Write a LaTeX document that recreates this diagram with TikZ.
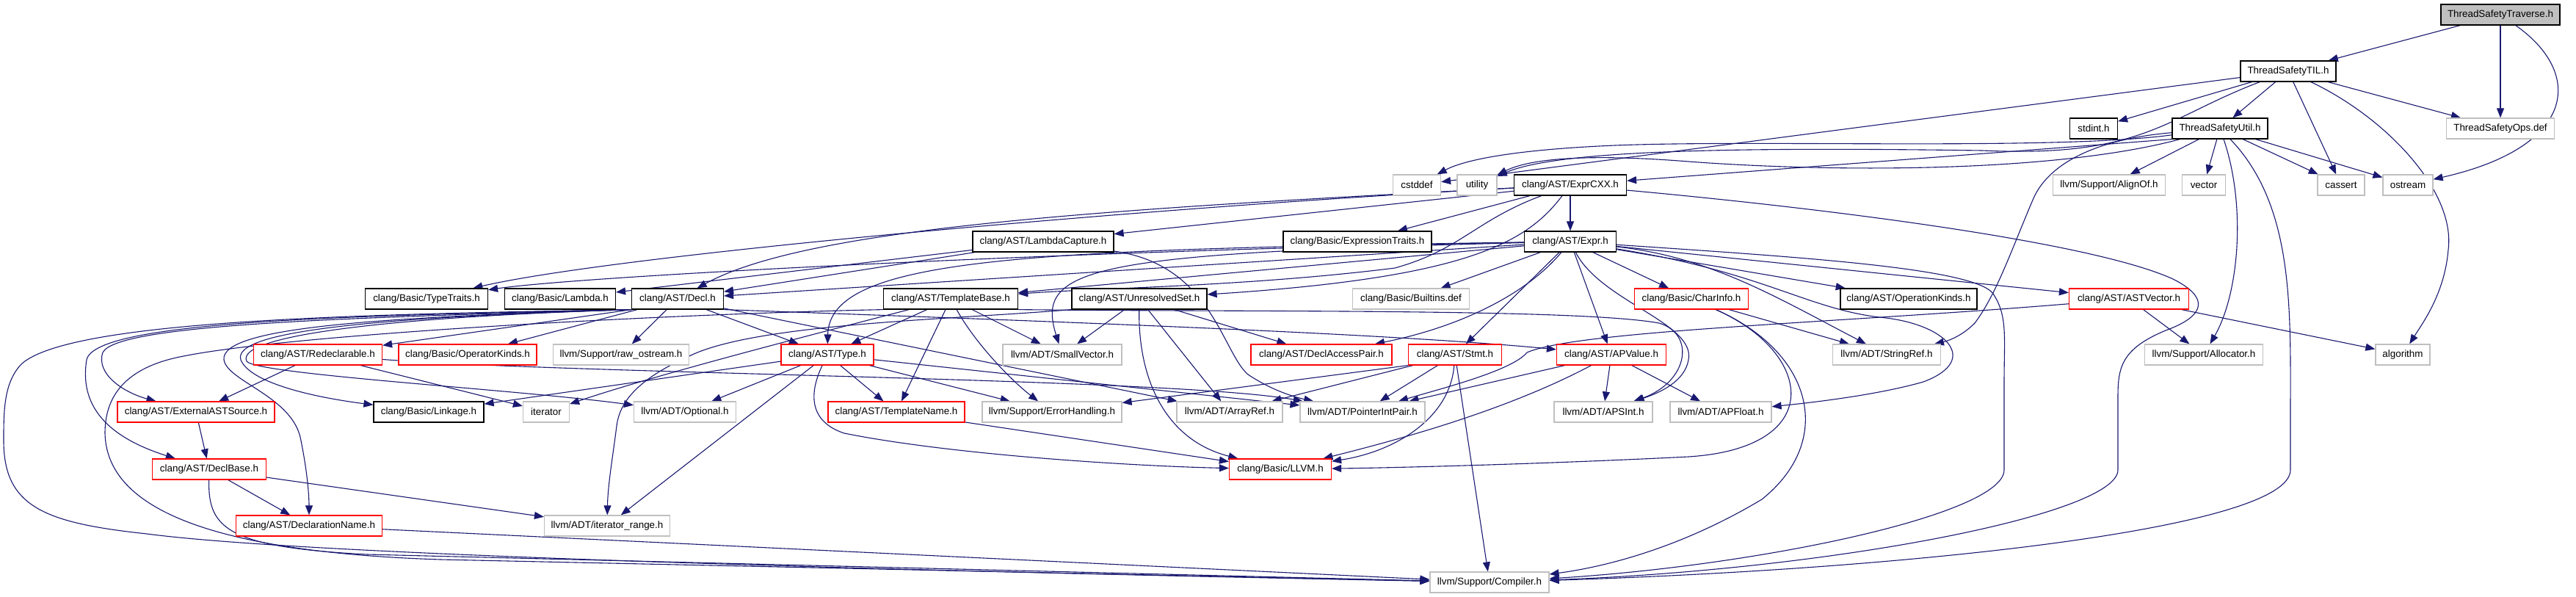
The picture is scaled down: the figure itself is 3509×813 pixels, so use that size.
\documentclass[tikz,border=0pt]{standalone}
\usepackage{fontspec}
\setmainfont{Liberation Sans}
\usetikzlibrary{arrows.meta}
\pgfdeclarelayer{edgelayer}
\pgfsetlayers{edgelayer,main}
\definecolor{edgeblue}{HTML}{191970}
\definecolor{grey75}{HTML}{BFBFBF}
\definecolor{redb}{HTML}{FF0000}
\tikzset{
  nb/.style={rectangle, line width=0.6pt, minimum height=14pt, inner sep=0pt, fill=white,
    font=\fontsize{6.7}{8}\selectfont, anchor=center},
  blk/.style={nb, draw=black},
  redbox/.style={nb, draw=redb},
  gry/.style={nb, draw=grey75},
  W/.style={minimum width=#1*0.5pt},
  e/.style={draw=edgeblue, line width=0.55pt, -{Triangle[length=6.5pt,width=5pt]}}
}
\begin{document}
\begin{tikzpicture}[x=0.5pt,y=-0.5pt]
\useasboundingbox (0,0) rectangle (3509,813);
% ---------------- nodes ----------------
\node[blk, fill=grey75, W=162] (trav) at (3406,20) {ThreadSafetyTraverse.h};
\node[blk, W=130] (til) at (3117,97) {ThreadSafetyTIL.h};
\node[blk, W=65] (stdint) at (2852,175) {stdint.h};
\node[blk, W=130] (util) at (3024,175) {ThreadSafetyUtil.h};
\node[gry, W=147] (ops) at (3406,175) {ThreadSafetyOps.def};
\node[gry, W=65] (cstddef) at (1930,252) {cstddef};
\node[gry, W=54] (utility) at (2012,252) {utility};
\node[blk, W=153] (exprcxx) at (2139,252) {clang/AST/ExprCXX.h};
\node[gry, W=153] (alignof) at (2873,252) {llvm/Support/AlignOf.h};
\node[gry, W=59] (vector) at (3002,252) {vector};
\node[gry, W=64] (cassert) at (3189,252) {cassert};
\node[gry, W=68] (ostream) at (3280,252) {ostream};
\node[blk, W=192] (lcap) at (1421,329) {clang/AST/LambdaCapture.h};
\node[blk, W=202] (etraits) at (1849,329) {clang/Basic/ExpressionTraits.h};
\node[blk, W=125] (expr) at (2139,329) {clang/AST/Expr.h};
\node[blk, W=167] (ttraits) at (581,407) {clang/Basic/TypeTraits.h};
\node[blk, W=151] (lambda) at (763,407) {clang/Basic/Lambda.h};
\node[blk, W=125] (decl) at (923,407) {clang/AST/Decl.h};
\node[blk, W=183] (tbase) at (1295,407) {clang/AST/TemplateBase.h};
\node[blk, W=184] (uset) at (1552,407) {clang/AST/UnresolvedSet.h};
\node[gry, W=159] (builtins) at (1922,407) {clang/Basic/Builtins.def};
\node[redbox, W=155] (charinfo) at (2304,407) {clang/Basic/CharInfo.h};
\node[blk, W=186] (opkinds) at (2600,407) {clang/AST/OperationKinds.h};
\node[redbox, W=163] (astvec) at (2900,407) {clang/AST/ASTVector.h};
\node[redbox, W=175] (redecl) at (433,483) {clang/AST/Redeclarable.h};
\node[redbox, W=188] (oprkinds) at (637,483) {clang/Basic/OperatorKinds.h};
\node[gry, W=185] (rawos) at (846,483) {llvm/Support/raw\_ostream.h};
\node[redbox, W=126] (type) at (1127,483) {clang/AST/Type.h};
\node[gry, W=162] (smallvec) at (1447,483) {llvm/ADT/SmallVector.h};
\node[redbox, W=192] (dap) at (1800,483) {clang/AST/DeclAccessPair.h};
\node[redbox, W=127] (stmt) at (1982,483) {clang/AST/Stmt.h};
\node[redbox, W=149] (apvalue) at (2195,483) {clang/AST/APValue.h};
\node[gry, W=147] (stringref) at (2570,483) {llvm/ADT/StringRef.h};
\node[gry, W=161] (alloc) at (3002,483) {llvm/Support/Allocator.h};
\node[gry, W=74] (algo) at (3273,483) {algorithm};
\node[redbox, W=214] (extast) at (267,561) {clang/AST/ExternalASTSource.h};
\node[blk, W=150] (linkage) at (584,561) {clang/Basic/Linkage.h};
\node[gry, W=63] (iter) at (744,561) {iterator};
\node[gry, W=139] (optional) at (933,561) {llvm/ADT/Optional.h};
\node[redbox, W=186] (tname) at (1221,561) {clang/AST/TemplateName.h};
\node[gry, W=190] (errh) at (1433,561) {llvm/Support/ErrorHandling.h};
\node[gry, W=144] (arrayref) at (1675,561) {llvm/ADT/ArrayRef.h};
\node[gry, W=170] (pip) at (1856,561) {llvm/ADT/PointerIntPair.h};
\node[gry, W=134] (apsint) at (2184,561) {llvm/ADT/APSInt.h};
\node[gry, W=138] (apfloat) at (2344,561) {llvm/ADT/APFloat.h};
\node[redbox, W=155] (declbase) at (285,639) {clang/AST/DeclBase.h};
\node[redbox, W=139] (llvmh) at (1744,639) {clang/Basic/LLVM.h};
\node[redbox, W=199] (dname) at (421,716) {clang/AST/DeclarationName.h};
\node[gry, W=171] (irange) at (827,716) {llvm/ADT/iterator\_range.h};
\node[gry, W=162] (compiler) at (2029,793) {llvm/Support/Compiler.h};
% ---------------- edges ----------------
\begin{pgfonlayer}{edgelayer}
\fill[white] (0,0) rectangle (3509,813);
% ThreadSafetyTraverse.h
\draw[e] (trav) -- (til);
\draw[e] (trav) -- (ops);
\draw[e] (trav) .. controls (3520,100) and (3510,200) .. (ostream);
% ThreadSafetyTIL.h
\draw[e] (til) -- (cstddef);
\draw[e] (til) .. controls (2950,160) and (2920,215) .. (2700,205) .. controls (2350,200) and (2120,205) .. (utility);
\draw[e] (til) -- (stdint);
\draw[e] (til) -- (util);
\draw[e] (til) -- (cassert);
\draw[e] (til) -- (ops);
\draw[e] (til) .. controls (3250,160) and (3345,260) .. (3335,340) .. controls (3330,400) and (3300,440) .. (algo);
% ThreadSafetyUtil.h
\draw[e] (util) .. controls (2800,205) and (2400,190) .. (2200,198) .. controls (2080,203) and (2000,215) .. (cstddef);
\draw[e] (util) .. controls (2800,235) and (2500,235) .. (2300,220) .. controls (2150,208) and (2080,218) .. (utility);
\draw[e] (util.south west) -- (exprcxx);
\draw[e] (util) .. controls (2850,190) and (2790,225) .. (2770,270) .. controls (2740,340) and (2720,400) .. (2690,440) .. controls (2670,460) and (2650,465) .. (stringref);
\draw[e] (util) -- (alignof);
\draw[e] (util) -- (vector);
\draw[e] (util) -- (cassert);
\draw[e] (util) -- (ostream);
\draw[e] (util) .. controls (3060,280) and (3050,400) .. (alloc);
\draw[e] (util) .. controls (3125,280) and (3120,420) .. (3120,560) -- (3120,640) .. controls (3120,720) and (2600,775) .. (compiler);
% clang/AST/ExprCXX.h
\draw[e] (exprcxx) -- (expr);
\draw[e] (exprcxx) -- (etraits);
\draw[e] (exprcxx) -- (lcap);
\draw[e] (exprcxx) .. controls (1600,280) and (850,345) .. (ttraits);
\draw[e] (exprcxx) .. controls (1500,285) and (1100,310) .. (decl);
\draw[e] (exprcxx) .. controls (2010,300) and (1990,340) .. (1900,365) .. controls (1700,390) and (1500,392) .. (tbase);
\draw[e] (exprcxx) .. controls (2080,330) and (2000,378) .. (uset);
\draw[e] (exprcxx) .. controls (2500,285) and (2850,330) .. (2960,380) .. controls (3010,405) and (3005,430) .. (2950,450) .. controls (2890,475) and (2885,500) .. (2885,540) -- (2885,640) .. controls (2885,700) and (2500,775) .. (compiler);
% clang/AST/LambdaCapture.h
\draw[e] (lcap) -- (lambda);
\draw[e] (lcap) -- (decl);
\draw[e] (lcap) .. controls (1650,360) and (1665,480) .. (1700,510) .. controls (1730,530) and (1760,540) .. (pip);
% clang/AST/Expr.h
\draw[e] (expr) .. controls (1500,340) and (800,375) .. (ttraits);
\draw[e] (expr) -- (decl);
\draw[e] (expr) -- (tbase);
\draw[e] (expr) .. controls (1400,340) and (1130,350) .. (type);
\draw[e] (expr) .. controls (1480,345) and (1410,365) .. (smallvec);
\draw[e] (expr) -- (builtins);
\draw[e] (expr) .. controls (2080,400) and (1990,445) .. (dap);
\draw[e] (expr) -- (stmt);
\draw[e] (expr) -- (apvalue);
\draw[e] (expr) .. controls (2180,410) and (2310,440) .. (2300,490) .. controls (2295,520) and (2260,535) .. (apsint);
\draw[e] (expr) -- (charinfo);
\draw[e] (expr) .. controls (2330,350) and (2420,405) .. (stringref);
\draw[e] (expr) .. controls (2400,370) and (2460,420) .. (2560,432) .. controls (2650,440) and (2700,490) .. (2620,520) .. controls (2550,540) and (2450,550) .. (apfloat);
\draw[e] (expr) -- (opkinds);
\draw[e] (expr) -- (astvec);
\draw[e] (expr) .. controls (2450,350) and (2690,365) .. (2715,400) .. controls (2735,430) and (2730,460) .. (2730,520) -- (2730,640) .. controls (2730,700) and (2400,770) .. (compiler);
% clang/AST/Decl.h
\draw[e] (decl.south west) -- (redecl);
\draw[e] (decl) -- (oprkinds);
\draw[e] (decl) -- (rawos);
\draw[e] (decl) -- (type);
\draw[e] (decl.south east) .. controls (1500,440) and (1900,455) .. (apvalue);
\draw[e] (decl) -- (arrayref);
\draw[e] (decl.south west) .. controls (500,432) and (160,440) .. (140,480) .. controls (130,510) and (170,535) .. (extast);
\draw[e] (decl.south west) .. controls (500,430) and (130,435) .. (118,490) .. controls (110,540) and (130,590) .. (declbase);
\draw[e] (decl.south west) .. controls (500,428) and (100,435) .. (30,495) .. controls (5,520) and (5,560) .. (5,600) .. controls (5,690) and (60,712) .. (200,727) .. controls (300,740) and (600,765) .. (compiler);
\draw[e] (decl.south west) .. controls (520,432) and (300,445) .. (305,490) .. controls (310,520) and (400,540) .. (410,600) .. controls (420,650) and (421,680) .. (dname);
\draw[e] (decl.south west) .. controls (520,432) and (315,450) .. (328,490) .. controls (340,520) and (420,540) .. (linkage);
\draw[e] (decl.south west) .. controls (520,432) and (320,458) .. (336,492) .. controls (350,510) and (700,530) .. (optional);
% clang/AST/TemplateBase.h
\draw[e] (tbase) -- (type);
\draw[e] (tbase) -- (tname);
\draw[e] (tbase) -- (smallvec);
\draw[e] (tbase) .. controls (1330,470) and (1380,520) .. (errh);
\draw[e] (tbase) .. controls (1050,470) and (880,515) .. (iter);
\draw[e] (tbase.south east) .. controls (1700,425) and (2150,420) .. (2260,440) .. controls (2310,455) and (2300,520) .. (apsint);
\draw[e] (tbase.south west) .. controls (900,428) and (400,455) .. (250,485) .. controls (170,500) and (143,540) .. (143,590) .. controls (145,670) and (230,750) .. (600,762) -- (compiler);
% clang/AST/UnresolvedSet.h
\draw[e] (uset) -- (smallvec);
\draw[e] (uset) -- (arrayref);
\draw[e] (uset) -- (dap);
\draw[e] (uset) .. controls (1550,520) and (1590,600) .. (llvmh);
\draw[e] (uset.south west) .. controls (1300,435) and (1050,440) .. (950,480) .. controls (880,510) and (845,540) .. (840,580) .. controls (835,620) and (828,660) .. (irange);
% clang/AST/Type.h
\draw[e] (type) -- (linkage);
\draw[e] (type) -- (optional);
\draw[e] (type) -- (irange);
\draw[e] (type) -- (tname);
\draw[e] (type) -- (errh);
\draw[e] (type) -- (pip);
\draw[e] (type) .. controls (1100,540) and (1105,575) .. (1150,590) .. controls (1300,620) and (1550,635) .. (llvmh);
% clang/AST/Redeclarable.h
\draw[e] (redecl) -- (extast);
\draw[e] (redecl) -- (iter);
\draw[e] (redecl) .. controls (800,510) and (1600,515) .. (pip);
% clang/AST/ExternalASTSource.h, DeclBase.h, DeclarationName.h
\draw[e] (extast) -- (declbase);
\draw[e] (declbase) -- (dname);
\draw[e] (declbase) -- (irange);
\draw[e] (declbase) .. controls (283,720) and (310,745) .. (500,755) -- (compiler);
\draw[e] (dname) -- (compiler);
\draw[e] (tname) -- (llvmh);
% clang/AST/Stmt.h
\draw[e] (stmt.south west) -- (errh);
\draw[e] (stmt) -- (arrayref);
\draw[e] (stmt) -- (pip);
\draw[e] (stmt) -- (compiler);
\draw[e] (stmt) .. controls (1975,570) and (1900,615) .. (llvmh);
% clang/AST/APValue.h
\draw[e] (apvalue) -- (pip);
\draw[e] (apvalue) .. controls (2050,560) and (1900,600) .. (llvmh);
\draw[e] (apvalue) -- (apsint);
\draw[e] (apvalue) -- (apfloat);
% clang/Basic/CharInfo.h
\draw[e] (charinfo) -- (stringref);
\draw[e] (charinfo) .. controls (2470,480) and (2490,610) .. (2300,622) .. controls (2100,632) and (1900,637) .. (llvmh);
\draw[e] (charinfo) .. controls (2470,480) and (2500,600) .. (2400,680) .. controls (2300,740) and (2200,770) .. (compiler);
% clang/AST/ASTVector.h
\draw[e] (astvec) .. controls (2500,440) and (2150,450) .. (2080,480) .. controls (2060,505) and (1960,530) .. (pip);
\draw[e] (astvec) -- (alloc);
\draw[e] (astvec) -- (algo);
\end{pgfonlayer}
\end{tikzpicture}
\end{document}
